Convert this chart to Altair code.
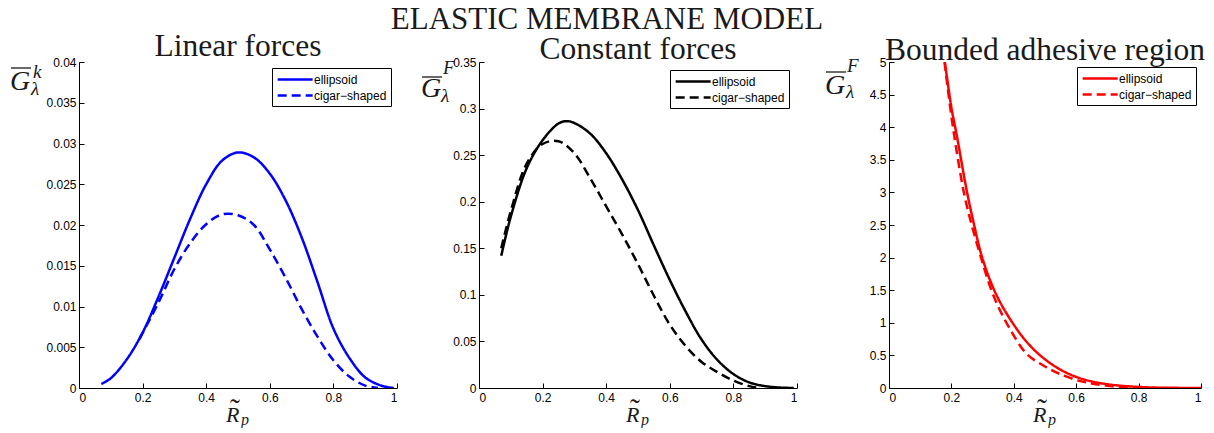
import altair as alt
import pandas as pd

SERIES = ["ellipsoid", "cigar−shaped"]

# Linear forces
lin_x_ell = [0.07, 0.1, 0.15, 0.2, 0.25, 0.3, 0.35, 0.4, 0.45, 0.5, 0.55, 0.6, 0.65, 0.7, 0.75, 0.8, 0.85, 0.9, 0.95, 0.99]
lin_y_ell = [0.0005, 0.0012, 0.0035, 0.0068, 0.0112, 0.0160, 0.0208, 0.0250, 0.0279, 0.0289, 0.0283, 0.0263, 0.0230, 0.0185, 0.0130, 0.0073, 0.0037, 0.0013, 0.0003, 0.0]
lin_x_cig = [0.19, 0.25, 0.3, 0.35, 0.4, 0.45, 0.5, 0.55, 0.6, 0.65, 0.7, 0.75, 0.8, 0.85, 0.9, 0.94]
lin_y_cig = [0.0060, 0.0105, 0.0146, 0.0178, 0.0201, 0.0213, 0.0212, 0.0200, 0.0170, 0.0135, 0.0097, 0.0063, 0.0034, 0.0014, 0.0003, 0.0]

# Constant forces
con_x_ell = [0.07, 0.1, 0.15, 0.2, 0.25, 0.275, 0.3, 0.35, 0.4, 0.45, 0.5, 0.55, 0.6, 0.65, 0.7, 0.75, 0.8, 0.85, 0.9, 0.95, 0.99]
con_y_ell = [0.142, 0.184, 0.236, 0.266, 0.284, 0.2865, 0.2845, 0.273, 0.252, 0.224, 0.191, 0.153, 0.116, 0.082, 0.052, 0.030, 0.015, 0.006, 0.002, 0.0004, 0.0]
con_x_cig = [0.07, 0.1, 0.15, 0.2, 0.25, 0.3, 0.35, 0.4, 0.45, 0.5, 0.55, 0.6, 0.65, 0.7, 0.75, 0.8, 0.85, 0.88]
con_y_cig = [0.150, 0.190, 0.241, 0.262, 0.265, 0.252, 0.225, 0.195, 0.165, 0.133, 0.099, 0.068, 0.045, 0.028, 0.017, 0.008, 0.002, 0.0]

# Bounded adhesive region
bnd_x_ell = [0.179, 0.2, 0.217, 0.249, 0.27, 0.3, 0.344, 0.4, 0.45, 0.5, 0.55, 0.6, 0.65, 0.7, 0.75, 0.8, 0.85, 0.9, 1.0]
bnd_y_ell = [5.0, 4.3, 3.88, 3.03, 2.56, 1.98, 1.43, 0.97, 0.66, 0.44, 0.28, 0.17, 0.10, 0.058, 0.032, 0.016, 0.007, 0.003, 0.0]
bnd_x_cig = [0.178, 0.205, 0.24, 0.265, 0.295, 0.323, 0.35, 0.386, 0.44, 0.5, 0.55, 0.61, 0.65, 0.7, 0.75, 0.78]
bnd_y_cig = [5.0, 4.0, 3.0, 2.5, 2.0, 1.57, 1.25, 0.92, 0.53, 0.33, 0.21, 0.11, 0.07, 0.035, 0.012, 0.0]

X_TICKS = [0, 0.2, 0.4, 0.6, 0.8, 1]
LIN_Y_TICKS = [0, 0.005, 0.01, 0.015, 0.02, 0.025, 0.03, 0.035, 0.04]
CON_Y_TICKS = [0, 0.05, 0.1, 0.15, 0.2, 0.25, 0.3, 0.35]
BND_Y_TICKS = [0, 0.5, 1, 1.5, 2, 2.5, 3, 3.5, 4, 4.5, 5]

MAIN_TITLE = "ELASTIC MEMBRANE MODEL"
TITLES = ["Linear forces", "Constant forces", "Bounded adhesive region"]

SERIF = "Liberation Serif"
SANS = "Liberation Sans"
TXT = "#1a1a1a"
H = 326
TOP = 62


def make_df(xe, ye, xc, yc):
    return pd.DataFrame({
        "x": xe + xc,
        "y": ye + yc,
        "series": [SERIES[0]] * len(xe) + [SERIES[1]] * len(xc),
    })


def text_layer(txt, x, y, size, style="italic", align="left", **kw):
    return alt.Chart(pd.DataFrame({"a": [1]})).mark_text(
        text=txt, font=SERIF, fontStyle=style, fontSize=size,
        align=align, baseline="alphabetic", color=TXT, **kw
    ).encode(x=alt.value(x), y=alt.value(y))


def panel(df, color, ydom, yticks, yfmt, title, tb, W, ox, sup, g, legoff, extra=None):
    xs = alt.Scale(domain=[0, 1], nice=False, zero=False)
    ys = alt.Scale(domain=ydom, nice=False, zero=False)
    base = alt.Chart(df)
    lines = base.mark_line(strokeWidth=2.5, color=color, interpolate="catmull-rom", clip=True).encode(
        x=alt.X("x:Q", scale=xs, axis=alt.Axis(values=X_TICKS, format=".1~f", tickSize=0,
                                              labelPadding=4, title=None, grid=False)),
        y=alt.Y("y:Q", scale=ys, axis=alt.Axis(values=yticks, format=yfmt, tickSize=0,
                                              labelPadding=3, title=None, grid=False)),
        strokeDash=alt.StrokeDash(
            "series:N",
            scale=alt.Scale(domain=SERIES, range=[[1, 0], [9, 5]]),
            title=None,
            legend=alt.Legend(
                orient="top-right", offset=legoff, padding=4, strokeColor="black",
                fillColor="white", labelFont=SANS, labelFontSize=12, labelColor="black",
                symbolType="M-1,0L5,0", symbolSize=136, symbolStrokeWidth=2.5,
                symbolStrokeColor=color, labelOffset=23, rowPadding=2, labelLimit=200,
                cornerRadius=0,
            ),
        ),
    )
    ticks = base.mark_line(opacity=0).encode(
        x=alt.X("x:Q", scale=xs, axis=alt.Axis(orient="top", offset=-H, values=X_TICKS, labels=False,
                                              domain=False, tickSize=5, title=None, grid=False,
                                              minExtent=0, maxExtent=0)),
        y=alt.Y("y:Q", scale=ys, axis=alt.Axis(orient="right", offset=-W, values=yticks, labels=False,
                                              domain=False, tickSize=5, title=None, grid=False,
                                              minExtent=0, maxExtent=0)),
    )
    cx = W / 2
    gx, gy, sx, sy, lx, ly, oy = g
    decor = [
        text_layer(title, cx, tb - TOP, 31.5, style="normal", align="center"),
        text_layer("G", gx - ox, gy - TOP, 28),
        alt.Chart(pd.DataFrame({"a": [1]})).mark_rule(color=TXT, strokeWidth=1.3).encode(
            x=alt.value(gx - ox + 1), x2=alt.value(gx - ox + 21), y=alt.value(oy - TOP)),
        text_layer(sup, sx - ox, sy - TOP, 19),
        text_layer("λ", lx - ox, ly - TOP, 19),
        text_layer("R", cx - 12, 422 - TOP, 22),
        text_layer("˜", cx - 3, 419 - TOP, 30, style="normal", align="center"),
        text_layer("p", cx + 3, 425 - TOP, 16),
    ]
    if extra is not None:
        decor.append(extra)
    ch = alt.layer(lines, ticks, *decor).resolve_axis(x="independent", y="independent").properties(
        width=W, height=H,
    )
    return ch


def spacer(w):
    return alt.Chart(pd.DataFrame({"a": [1]})).mark_point(opacity=0).encode(
        x=alt.value(0), y=alt.value(0)).properties(width=w, height=H)


main = text_layer(["", MAIN_TITLE], 607 - 479, 33 - TOP, 31, style="normal", align="center",
                  lineHeight=-4)

p1 = panel(make_df(lin_x_ell, lin_y_ell, lin_x_cig, lin_y_cig), "#0000ff", [0, 0.04], LIN_Y_TICKS,
           ".3~f", TITLES[0], 56, 318, 79, "k", (10, 90, 33, 78, 31, 95, 68), 6)
p2 = panel(make_df(con_x_ell, con_y_ell, con_x_cig, con_y_cig), "#000000", [0, 0.35], CON_Y_TICKS,
           ".2~f", TITLES[1], 59, 318, 479, "F", (421, 97, 443, 74, 441, 102, 77), 8, extra=main)
p3 = panel(make_df(bnd_x_ell, bnd_y_ell, bnd_x_cig, bnd_y_cig), "#ff0000", [0, 5], BND_Y_TICKS,
           ".1~f", TITLES[2], 60, 312, 889, "F", (825, 94, 847, 72, 846, 98, 72), 5)

chart = alt.hconcat(p1, spacer(82), p2, spacer(92), p3, spacing=0, bounds="flush").resolve_scale(
    strokeDash="independent"
).resolve_legend(strokeDash="independent").properties(
    padding={"left": 2, "top": 0, "right": 0, "bottom": 0},
).configure_view(strokeWidth=0).configure_axis(
    domainColor="black", tickColor="black", labelColor="black", labelFont=SANS, labelFontSize=12,
    domainWidth=1, tickWidth=1,
)

chart.save("out.html", embed_options={"renderer": "svg", "actions": False})
